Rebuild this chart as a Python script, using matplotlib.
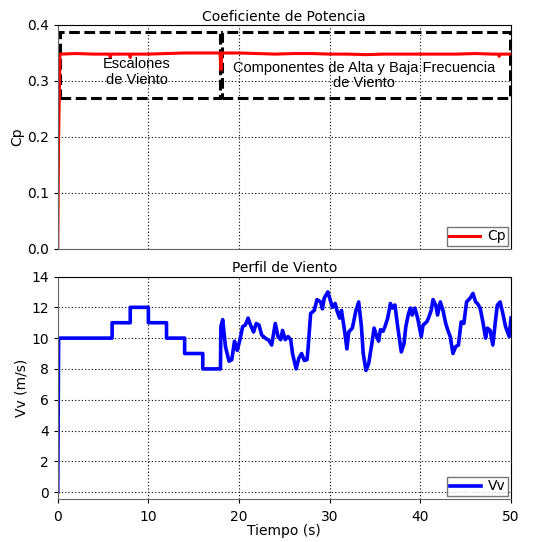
import matplotlib
matplotlib.use("Agg")
import matplotlib.pyplot as plt
from matplotlib.patches import Rectangle

# ---- Data ----
# Wind speed profile (m/s)
t_wind = [0.0, 0.1, 6.0, 6.0, 8.0, 8.0, 10.0, 10.0, 12.0, 12.0, 14.0, 14.0, 16.0, 16.0, 17.95,
          18.0, 18.2, 18.5, 18.9, 19.2, 19.5, 19.8, 20.1, 20.4, 20.7, 21.0, 21.2, 21.6, 21.9,
          22.2, 22.5, 22.9, 23.3, 23.6, 24.0, 24.3, 24.6, 24.8, 25.1, 25.4, 25.7, 25.9, 26.3,
          26.6, 26.9, 27.2, 27.5, 27.6, 27.9, 28.3, 28.6, 29.0, 29.2, 29.4, 29.8, 30.05, 30.3,
          30.6, 30.85, 31.1, 31.3, 31.6, 31.9, 32.1, 32.5, 32.9, 33.2, 33.5, 33.7, 34.0, 34.3,
          34.6, 34.9, 35.2, 35.4, 35.6, 35.9, 36.1, 36.4, 36.7, 36.9, 37.2, 37.5, 37.9, 38.2,
          38.4, 38.7, 38.9, 39.1, 39.4, 39.7, 40.1, 40.3, 40.7, 40.9, 41.2, 41.4, 41.7, 41.9,
          42.2, 42.5, 42.8, 43.1, 43.3, 43.6, 43.9, 44.2, 44.5, 44.8, 45.1, 45.5, 45.8, 46.1,
          46.3, 46.6, 46.9, 47.2, 47.4, 47.7, 48.0, 48.3, 48.5, 48.8, 49.1, 49.4, 49.8, 50.0]
v_wind = [0.0, 10.0, 10.0, 11.0, 11.0, 12.0, 12.0, 11.0, 11.0, 10.0, 10.0, 9.0, 9.0, 8.0, 8.0,
          10.75, 11.2, 9.45, 8.5, 8.6, 9.8, 9.2, 9.9, 10.75, 10.85, 11.3, 10.95, 10.4, 10.95,
          10.85, 10.2, 10.0, 9.85, 9.55, 10.95, 10.1, 9.9, 10.5, 9.9, 10.1, 9.9, 9.0, 8.0,
          8.7, 9.0, 8.55, 8.6, 9.2, 11.6, 11.8, 12.5, 12.35, 11.9, 12.6, 13.0, 12.5, 12.0,
          12.25, 11.7, 11.3, 11.8, 10.65, 9.3, 10.4, 10.65, 11.8, 12.35, 10.75, 9.0, 7.9, 8.35,
          9.45, 10.65, 10.1, 9.8, 10.55, 10.45, 10.75, 11.3, 12.25, 11.95, 12.15, 10.75, 9.1, 9.65,
          10.75, 11.6, 11.95, 11.5, 11.95, 11.3, 10.1, 10.85, 11.05, 11.3, 11.8, 12.5, 12.15, 11.5,
          12.35, 11.8, 10.95, 10.4, 10.1, 9.0, 9.45, 9.55, 11.05, 10.95, 12.35, 12.6, 12.9, 12.35,
          12.25, 11.95, 11.05, 10.0, 10.65, 10.5, 9.55, 11.2, 12.15, 12.35, 11.6, 10.75, 10.1, 11.3]

# Power coefficient
t_cp = [0.0, 0.1, 0.25, 2.0, 4.0, 5.7, 5.8, 5.9, 7.9, 8.0, 8.1, 10.0, 12.0, 14.0, 16.0, 17.9,
        18.0, 18.1, 20.0, 22.0, 24.0, 26.0, 28.0, 30.0, 32.0, 34.0, 36.0, 38.0, 40.0, 42.0,
        44.0, 46.0, 48.0, 48.6, 48.7, 48.8, 50.0]
cp = [0.0, 0.2, 0.348, 0.349, 0.348, 0.348, 0.342, 0.348, 0.348, 0.342, 0.348, 0.348, 0.349,
      0.350, 0.350, 0.350, 0.32, 0.350, 0.350, 0.349, 0.348, 0.349, 0.349, 0.348, 0.348, 0.347,
      0.348, 0.348, 0.348, 0.348, 0.348, 0.349, 0.348, 0.348, 0.344, 0.348, 0.348]

# Annotation boxes (time start, time end, Cp low, Cp high)
box1 = (0.25, 17.9, 0.27, 0.388)
box2 = (18.1, 49.9, 0.27, 0.388)

plt.rcParams['font.family'] = ['DejaVu Sans']

fig = plt.figure(figsize=(5.33, 5.42), dpi=100)
ax1 = fig.add_axes([0.1083, 0.5406, 0.8504, 0.4133])
ax2 = fig.add_axes([0.1083, 0.0793, 0.8504, 0.4105])

def style(ax):
    ax.grid(True, color='black', linestyle=(0, (1, 2)), linewidth=0.8)
    ax.set_axisbelow(True)
    for s in ['top', 'right']:
        ax.spines[s].set_color('black')
    for s in ['left', 'bottom']:
        ax.spines[s].set_color('#666666')
    ax.tick_params(direction='out', length=3, labelsize=10, colors='black')
    ax.tick_params(axis='x', pad=5)
    ax.set_xlim(0, 50)
    ax.set_xticks([0, 10, 20, 30, 40, 50])

# Top
style(ax1)
ax1.plot(t_cp, cp, color='red', linewidth=2.2, label='Cp')
ax1.set_ylim(0, 0.4)
ax1.set_yticks([0.0, 0.1, 0.2, 0.3, 0.4])
ax1.set_yticklabels(['0.0', '0.1', '0.2', '0.3', '0.4'])
ax1.tick_params(axis='x', labelbottom=False, length=0)
ax1.set_ylabel('Cp', fontsize=10, labelpad=2)
ax1.set_title('Coeficiente de Potencia', fontsize=10, pad=3)
for (x0, x1, y0, y1) in (box1, box2):
    ax1.add_patch(Rectangle((x0, y0), x1 - x0, y1 - y0, fill=False, edgecolor='black',
                            linewidth=2.2, linestyle=(0, (3.5, 1.5))))
ax1.text(8.7, 0.316, 'Escalones\nde Viento', ha='center', va='center', fontsize=10.5,
         family='Liberation Sans', linespacing=1.1)
ax1.text(33.8, 0.31, 'Componentes de Alta y Baja Frecuencia\nde Viento', ha='center',
         va='center', fontsize=10.5, family='Liberation Sans', linespacing=1.1)
leg1 = ax1.legend(loc='lower right', fontsize=10, frameon=True, fancybox=False,
                  handlelength=2.2, borderpad=0.2, borderaxespad=0.2, handletextpad=0.5)
leg1.get_frame().set_edgecolor('#555555')
leg1.get_frame().set_linewidth(1.0)

# Bottom
style(ax2)
ax2.plot(t_wind, v_wind, color='blue', linewidth=2.6, label='Vv')
ax2.set_ylim(-0.45, 14)
ax2.set_yticks([0, 2, 4, 6, 8, 10, 12, 14])
ax2.set_ylabel('Vv (m/s)', fontsize=10, labelpad=2)
ax2.set_xlabel('Tiempo (s)', fontsize=10, labelpad=0)
ax2.set_title('Perfil de Viento', fontsize=10, pad=3)
leg2 = ax2.legend(loc='lower right', fontsize=10, frameon=True, fancybox=False,
                  handlelength=2.2, borderpad=0.2, borderaxespad=0.2, handletextpad=0.5)
leg2.get_frame().set_edgecolor('#555555')
leg2.get_frame().set_linewidth(1.0)

fig.savefig('out.png', dpi=100)
